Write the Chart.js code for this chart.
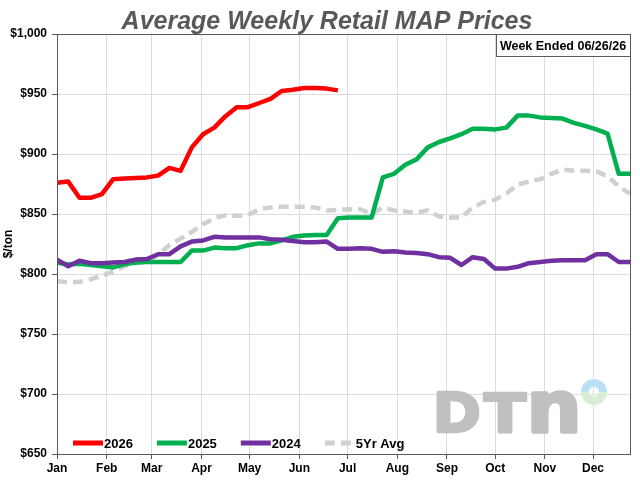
<!DOCTYPE html>
<html>
<head>
<meta charset="utf-8">
<script src="https://cdn.jsdelivr.net/npm/chart.js@4.4.1/dist/chart.umd.min.js"></script>
<style>
  body { margin: 0; background: #fff; }
  #wrap { width: 640px; height: 480px; }
</style>
</head>
<body>
<div id="wrap"><canvas id="grafico" width="640" height="480"></canvas></div>
<script>
// valores semanais ($/ton), semana 0 = primeira semana de janeiro
const prices2026 = [876, 877, 863.5, 863.5, 866.5, 879, 879.5, 880, 880.5, 882, 888.5, 886, 905.5, 916.5, 922, 931.5, 939, 939, 942.5, 946, 952.5, 953.5, 955, 955, 954.5, 953];
const prices2025 = [809.5, 808, 808.5, 807.5, 806.5, 805.5, 808, 809.5, 810, 810, 810, 810, 819.5, 819.5, 822, 821.5, 821.5, 824, 825.5, 825.5, 828, 831, 832, 832.5, 832.5, 846.5, 847, 847, 847, 880.5, 883.5, 891, 895.5, 905.5, 910, 913, 916.5, 921, 921, 920.5, 922, 932, 932, 930.5, 930, 929.5, 926, 923.5, 920.5, 917, 883.5, 883.5];
const prices2024 = [812, 806.5, 811, 809, 809, 809.5, 810, 812, 812.5, 816.5, 816.5, 823, 827, 828, 831, 830.5, 830.5, 830.5, 830.5, 829, 828.5, 827.5, 826.5, 826.5, 827, 821, 821, 821.5, 821, 818.5, 819, 818, 817.5, 816.5, 814, 813.5, 807.5, 814, 812.5, 804.5, 804.5, 806, 809, 810, 811, 811.5, 811.5, 811.5, 816.5, 816.5, 810, 810];
const avg5yr = [794, 793, 793.5, 795.5, 798.5, 802, 806.5, 809, 810.5, 816, 824, 829.5, 835, 841.5, 846.5, 849, 848.5, 849, 854, 855.5, 856, 856, 856, 855.5, 853, 853.5, 854, 854, 850, 855.5, 853, 852, 851, 853, 848, 847, 847, 855.5, 860, 862, 867, 874.5, 877, 879, 883.5, 887, 886, 886, 885.5, 881.5, 873, 867];

const seriesLabels = ['2026', '2025', '2024', '5Yr Avg'];
const monthLabels = ['Jan', 'Feb', 'Mar', 'Apr', 'May', 'Jun', 'Jul', 'Aug', 'Sep', 'Oct', 'Nov', 'Dec'];
const monthWeeks = [0, 4.43, 8.43, 12.86, 17.14, 21.57, 25.86, 30.29, 34.71, 39, 43.43, 47.71];
const weekEnded = 'Week Ended 06/26/26';
const titulo = 'Average Weekly Retail MAP Prices';
const eixoY = '$/ton';

const FONTE = '"Liberation Sans", Arial, sans-serif';
Chart.defaults.font.family = FONTE;

function pontos(arr) {
    return arr.map((v, i) => ({ x: i, y: v }));
}

// desenha uma letra do logo ajustada a uma caixa
function letra(ctx, ch, x, base, w, h) {
    ctx.save();
    ctx.font = 'bold 100px "DejaVu Sans"';
    const m = ctx.measureText(ch);
    const gh = m.actualBoundingBoxAscent;
    const gw = m.actualBoundingBoxRight + m.actualBoundingBoxLeft;
    ctx.translate(x, base);
    ctx.scale(w / gw, h / gh);
    ctx.lineWidth = 5;
    ctx.lineJoin = 'round';
    ctx.fillText(ch, m.actualBoundingBoxLeft, 0);
    ctx.strokeText(ch, m.actualBoundingBoxLeft, 0);
    ctx.restore();
}

const logoPlugin = {
    id: 'logoDtn',
    beforeDatasetsDraw(chart) {
        const ctx = chart.ctx;
        ctx.save();
        ctx.fillStyle = '#c0c0c0';
        ctx.strokeStyle = '#c0c0c0';
        letra(ctx, 'D', 438, 432, 40, 40);
        letra(ctx, 'T', 484, 432, 42, 40);
        letra(ctx, 'n', 533, 432, 43, 40);
        ctx.lineWidth = 8;
        ctx.beginPath();
        ctx.strokeStyle = '#b9e0f4';
        ctx.arc(594, 392, 9, Math.PI, 0);
        ctx.stroke();
        ctx.beginPath();
        ctx.strokeStyle = '#d7eed4';
        ctx.arc(594, 392, 9, 0, Math.PI);
        ctx.stroke();
        ctx.restore();
    }
};

const extrasPlugin = {
    id: 'extras',
    afterDraw(chart) {
        const ctx = chart.ctx;
        const a = chart.chartArea;
        ctx.save();

        // titulo
        ctx.fillStyle = '#595959';
        ctx.font = 'italic bold 25px ' + FONTE;
        ctx.textAlign = 'center';
        ctx.textBaseline = 'alphabetic';
        ctx.fillText(titulo, 327, 29);

        // moldura da area do grafico
        ctx.strokeStyle = '#595959';
        ctx.lineWidth = 1;
        ctx.strokeRect(Math.round(a.left) + 0.5, Math.round(a.top) + 0.5, Math.round(a.right - a.left), Math.round(a.bottom - a.top));

        // titulo do eixo Y
        ctx.fillStyle = '#000';
        ctx.font = 'bold 12px ' + FONTE;
        ctx.textBaseline = 'middle';
        ctx.translate(9, (a.top + a.bottom) / 2);
        ctx.rotate(-Math.PI / 2);
        ctx.fillText(eixoY, 0, 0);
        ctx.setTransform(1, 0, 0, 1, 0, 0);

        // caixa "Week Ended"
        const bx = 496, by = Math.round(a.top) + 0.5, bw = Math.round(a.right) - bx, bh = 22;
        ctx.fillStyle = '#fff';
        ctx.fillRect(bx, by, bw, bh);
        ctx.strokeStyle = '#595959';
        ctx.strokeRect(bx + 0.5, by, bw, bh);
        ctx.fillStyle = '#000';
        ctx.font = 'bold 12.5px ' + FONTE;
        ctx.fillText(weekEnded, bx + bw / 2, by + bh / 2 + 1);

        // legenda dentro do grafico
        let x = 73;
        const y = 443;
        ctx.font = 'bold 13px ' + FONTE;
        ctx.textAlign = 'left';
        chart.data.datasets.forEach(ds => {
            ctx.beginPath();
            ctx.strokeStyle = ds.borderColor;
            ctx.lineWidth = 5;
            ctx.setLineDash(ds.borderDash || []);
            ctx.moveTo(x, y);
            ctx.lineTo(x + 30, y);
            ctx.stroke();
            ctx.setLineDash([]);
            ctx.fillStyle = '#000';
            ctx.fillText(ds.label, x + 31, y + 1);
            x += 31 + ctx.measureText(ds.label).width + 24;
        });
        ctx.restore();
    }
};

const cores = ['#ff0000', '#00b050', '#7030a0', '#d0d0d0'];
const series = [prices2026, prices2025, prices2024, avg5yr];
const ordem = [0, 2, 1, 3];

const datasets = series.map((s, i) => ({
    label: seriesLabels[i],
    data: pontos(s),
    borderColor: cores[i],
    backgroundColor: cores[i],
    borderWidth: 4.5,
    borderDash: i === 3 ? [10, 6] : undefined,
    borderJoinStyle: 'round',
    pointRadius: 0,
    tension: 0,
    order: ordem[i]
}));

new Chart(document.getElementById('grafico').getContext('2d'), {
    type: 'line',
    data: { datasets },
    options: {
        responsive: false,
        animation: false,
        layout: { padding: { left: 0, right: 10, top: 34, bottom: 0 } },
        plugins: {
            legend: { display: false },
            tooltip: { enabled: false },
            title: { display: false }
        },
        scales: {
            x: {
                type: 'linear',
                min: 0,
                max: 51,
                afterBuildTicks: (axis) => { axis.ticks = monthWeeks.map(v => ({ value: v })); },
                afterFit: (axis) => { axis.height = 26; },
                ticks: {
                    autoSkip: false,
                    maxRotation: 0,
                    padding: 2,
                    color: '#000',
                    font: { size: 12, weight: 'bold' },
                    callback: (v, i) => monthLabels[i]
                },
                grid: { color: '#dcdcdc', tickLength: 5, tickColor: '#595959' },
                border: { color: '#595959' }
            },
            y: {
                min: 650,
                max: 1000,
                afterFit: (axis) => { axis.width = 57; },
                ticks: {
                    stepSize: 50,
                    padding: 5,
                    color: '#000',
                    font: { size: 12, weight: 'bold' },
                    callback: (v) => '$' + v.toLocaleString('en-US')
                },
                grid: { color: '#dcdcdc', tickLength: 5, tickColor: '#595959' },
                border: { color: '#595959' }
            }
        }
    },
    plugins: [logoPlugin, extrasPlugin]
});
</script>
</body>
</html>
